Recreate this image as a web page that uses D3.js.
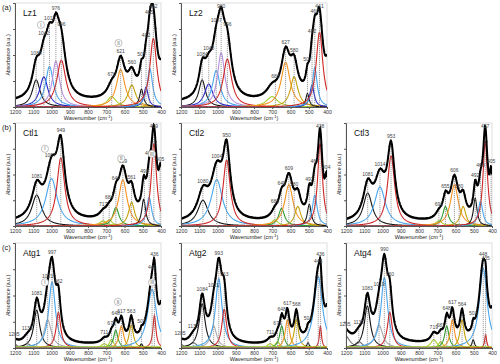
<!DOCTYPE html>
<html>
<head>
<meta charset="utf-8">
<script src="https://cdn.jsdelivr.net/npm/d3@7"></script>
<style>
  body { margin: 0; background: #fff; }
  svg { display: block; font-family: Arial, "Liberation Sans", sans-serif; }
</style>
</head>
<body>
<svg id="chart" width="500" height="364"></svg>
<script>
// ---- data: peaks as [centre, height, half-width] ----
var wavenumberTicks = [1200, 1100, 1000, 900, 800, 700, 600, 500, 400];
var rowLabels = ["(a)", "(b)", "(c)"];

var lz1Peaks = [[1084, .26, 26], [1042, .29, 27], [1011, .39, 26], [976, .44, 24], [946, .45, 30],
  [670, .10, 30], [621, .36, 28], [560, .21, 26], [507, .17, 13], [482, .19, 14], [461, .37, 18], [442, .66, 23], [388, .28, 22]];
var lz1Labels = [1084, 1042, 1011, 976, 946, 670, 621, 560, 507, 482, 465, 442];
var lz1Baseline = .04;

var lz2Peaks = [[1084, .26, 22], [1048, .22, 28], [1007, .35, 26], [980, .52, 24], [946, .46, 28],
  [701, .10, 38], [627, .43, 30], [580, .29, 25], [507, .13, 11], [482, .21, 14], [467, .38, 16], [441, .72, 22], [392, .30, 20]];
var lz2Labels = [1084, 1048, 1007, 980, 946, 683, 627, 580, 507, 482, 467, 441];
var lz2Baseline = .035;

var ctl1Peaks = [[1081, .30, 33], [1000, .46, 38], [949, .66, 26], [717, .05, 25], [684, .06, 20], [647, .18, 20],
  [609, .45, 28], [561, .23, 20], [495, .26, 13], [465, .28, 16], [439, .80, 18], [402, .38, 12]];
var ctl1Labels = [1081, 1007, 949, 717, 684, 647, 609, 561, 491, 465, 439, 405];
var ctl1Baseline = .03;

var ctl2Peaks = [[1080, .25, 35], [1004, .45, 38], [950, .64, 24], [686, .06, 22], [649, .17, 20],
  [609, .40, 28], [560, .19, 20], [497, .21, 13], [467, .30, 16], [438, .80, 16], [403, .32, 10]];
var ctl2Labels = [1080, 1004, 950, 686, 649, 609, 580, 497, 467, 438, 404];
var ctl2Baseline = .025;

var ctl3Peaks = [[1081, .32, 30], [1014, .38, 36], [953, .68, 24], [691, .05, 22], [655, .19, 18],
  [606, .40, 26], [558, .19, 18], [492, .27, 12], [463, .24, 15], [437, .82, 15], [404, .38, 10]];
var ctl3Labels = [1081, 1014, 953, 691, 655, 606, 580, 492, 463, 437, 405];
var ctl3Baseline = .025;

var atg1Peaks = [[1205, .04, 20], [1133, .04, 25], [1081, .36, 20], [1021, .27, 24], [997, .63, 22], [962, .34, 15],
  [711, .04, 20], [671, .08, 15], [648, .17, 14], [617, .21, 15], [563, .22, 14], [507, .04, 8],
  [449, .56, 30], [436, .31, 10], [395, .28, 15], [800, .012, 4000]];
var atg1Labels = [1205, 1133, 1081, 1021, 997, 962, 711, 671, 648, 617, 563, 507, 449, 436];
var atg1Baseline = .01;

var atg2Peaks = [[1205, .04, 20], [1133, .05, 25], [1084, .42, 20], [1021, .21, 20], [993, .66, 22], [963, .37, 16],
  [711, .04, 20], [671, .06, 15], [648, .21, 14], [617, .27, 14], [568, .275, 14], [504, .05, 8],
  [448, .68, 28], [436, .21, 7], [392, .28, 15], [800, .012, 4000]];
var atg2Labels = [1205, 1133, 1084, 1021, 993, 963, 711, 671, 648, 617, 568, 504, 448, 436];
var atg2Baseline = .01;

var atg4Peaks = [[1205, .12, 30], [1130, .06, 25], [1083, .40, 20], [1019, .22, 24], [990, .67, 22], [960, .34, 16],
  [719, .08, 20], [681, .06, 15], [648, .21, 14], [617, .27, 14], [564, .27, 14], [503, .08, 8],
  [448, .76, 26], [435, .13, 6], [385, .38, 15], [800, .012, 4000]];
var atg4Labels = [1205, 1130, 1083, 1019, 990, 960, 719, 681, 648, 617, 564, 503, 448, 435];
var atg4Baseline = .02;

// circled band markers: [wavenumber, level, numeral]
var lz1Bands = [[1058, .79, "I"], [633, .615, "II"]];
var ctl1Bands = [[1036, .75, "I"], [618, .655, "II"], [450, .70, "III"]];
var atg1Bands = [[1036, .625, "I"], [636, .44, "II"], [449, .625, "III"]];

// ---- component colours (null = fitted but not drawn) ----
var C = {k: "#151515", db: "#2424c8", sb: "#48a6ee", vi: "#b690de", rd: "#cf2626", yg: "#a8cc2a",
  or: "#f7921e", go: "#c4a10a", gr: "#2b9a2b", sv: "#a9a9a9", dg: "#6a6a6a"};
var lz1Colors = [C.k, C.db, C.sb, C.vi, C.rd, C.yg, C.or, C.go, C.k, C.db, C.sb, C.rd, null];
var lz2Colors = lz1Colors;
var ctlColors = [C.k, C.sb, C.rd, C.yg, C.yg, C.gr, C.or, C.go, C.k, C.sb, C.rd, null];
var ctl23Colors = [C.k, C.sb, C.rd, C.yg, C.gr, C.or, C.go, C.k, C.sb, C.rd, null];
var atgColors = [C.dg, C.dg, C.k, C.sv, C.sb, C.rd, C.yg, C.yg, C.gr, C.or, C.go, C.k, C.sb, C.rd, null, C.yg];

var svg = d3.select("#chart");

// geometry of the 3x3 grid
var colX = [15, 181, 346], rowTop = [3, 123, 243], rowBottom = [107, 226, 348], plotW = 146;

var panels = [
  {name: "Lz1", col: 0, row: 0, peaks: lz1Peaks, labels: lz1Labels, base: lz1Baseline, colors: lz1Colors, bands: lz1Bands},
  {name: "Lz2", col: 1, row: 0, peaks: lz2Peaks, labels: lz2Labels, base: lz2Baseline, colors: lz2Colors, bands: []},
  {name: "Ctl1", col: 0, row: 1, peaks: ctl1Peaks, labels: ctl1Labels, base: ctl1Baseline, colors: ctlColors, bands: ctl1Bands},
  {name: "Ctl2", col: 1, row: 1, peaks: ctl2Peaks, labels: ctl2Labels, base: ctl2Baseline, colors: ctl23Colors, bands: []},
  {name: "Ctl3", col: 2, row: 1, peaks: ctl3Peaks, labels: ctl3Labels, base: ctl3Baseline, colors: ctl23Colors, bands: []},
  {name: "Atg1", col: 0, row: 2, peaks: atg1Peaks, labels: atg1Labels, base: atg1Baseline, colors: atgColors, bands: atg1Bands},
  {name: "Atg2", col: 1, row: 2, peaks: atg2Peaks, labels: atg2Labels, base: atg2Baseline, colors: atgColors, bands: []},
  {name: "Atg4", col: 2, row: 2, peaks: atg4Peaks, labels: atg4Labels, base: atg4Baseline, colors: atgColors, bands: []}
];

// Lorentzian band shape
function band(p, w) { var t = (w - p[0]) / p[2]; return p[1] / (1 + t * t); }

var grid = d3.range(1200, 399, -2);

rowLabels.forEach(function (t, i) {
  svg.append("text").attr("x", 2).attr("y", rowTop[i] + 7).attr("font-size", 7.5).attr("fill", "#222").text(t);
});

panels.forEach(function (P, pi) {
  var x0 = colX[P.col], top = rowTop[P.row], bot = rowBottom[P.row];
  var x = d3.scaleLinear().domain([1200, 400]).range([x0, x0 + plotW]);
  var y = d3.scaleLinear().domain([0, 1]).range([bot, top]);
  var env = function (w) { return P.base + d3.sum(P.peaks, function (p) { return band(p, w); }); };

  var g = svg.append("g");
  g.append("clipPath").attr("id", "clip" + pi).append("rect")
    .attr("x", x0).attr("y", top).attr("width", plotW).attr("height", bot - top);

  // light frame
  g.append("rect").attr("x", x0).attr("y", top).attr("width", plotW).attr("height", bot - top)
    .attr("fill", "none").attr("stroke", "#d4d4d4").attr("stroke-width", .8);

  var plot = g.append("g").attr("clip-path", "url(#clip" + pi + ")");

  // components
  P.peaks.forEach(function (p, i) {
    if (!P.colors[i]) return;
    plot.append("path").datum(grid)
      .attr("fill", "none").attr("stroke", P.colors[i]).attr("stroke-width", 1.1)
      .attr("d", d3.line().x(function (w) { return x(w); }).y(function (w) { return y(band(p, w)); }));
  });

  // drop lines at assigned bands
  plot.selectAll(".drop").data(P.labels).enter().append("line")
    .attr("x1", function (d) { return x(d); }).attr("x2", function (d) { return x(d); })
    .attr("y1", y(0)).attr("y2", function (d) { return y(env(d)); })
    .attr("stroke", "#8a8a8a").attr("stroke-width", .8).attr("stroke-dasharray", "1.2,.8");

  // experimental points and fitted envelope
  plot.selectAll(".pt").data(d3.range(1200, 399, -7)).enter().append("circle")
    .attr("cx", function (w) { return x(w); }).attr("cy", function (w) { return y(env(w)) - .6; })
    .attr("r", .9).attr("fill", "#000");
  plot.append("path").datum(grid)
    .attr("fill", "none").attr("stroke", "#000").attr("stroke-width", 2)
    .attr("d", d3.line().x(function (w) { return x(w); }).y(function (w) { return y(env(w)); }));

  // band labels
  g.selectAll(".lab").data(P.labels).enter().append("text")
    .attr("x", function (d) { return x(d); })
    .attr("y", function (d) { return Math.max(top + 5, y(env(d)) - 3); })
    .attr("text-anchor", "middle").attr("font-size", 5).attr("fill", "#444")
    .text(function (d) { return d; });

  // circled band groups
  P.bands.forEach(function (b) {
    g.append("circle").attr("cx", x(b[0])).attr("cy", y(b[1])).attr("r", 3.6)
      .attr("fill", "#fff").attr("stroke", "#999").attr("stroke-width", .6);
    g.append("text").attr("x", x(b[0])).attr("y", y(b[1]) + 1.7).attr("text-anchor", "middle")
      .attr("font-size", 4.5).attr("fill", "#444").text(b[2]);
  });

  // axes
  g.append("g").attr("transform", "translate(0," + bot + ")")
    .call(d3.axisBottom(x).tickValues(wavenumberTicks).tickFormat(d3.format("d")).tickSize(2).tickPadding(1.5))
    .call(function (a) {
      a.select(".domain").attr("stroke", "#555");
      a.selectAll("line").attr("stroke", "#555");
      a.selectAll("text").attr("font-size", 5.2).attr("fill", "#333").attr("font-family", "Arial, sans-serif");
    });
  g.append("g").attr("transform", "translate(" + x0 + ",0)")
    .call(d3.axisLeft(y).tickValues([.25, .5, .75]).tickSize(2).tickFormat(""))
    .call(function (a) {
      a.select(".domain").attr("stroke", "#555");
      a.selectAll("line").attr("stroke", "#555");
    });

  g.append("text").attr("x", x0 + plotW / 2).attr("y", bot + 13).attr("text-anchor", "middle")
    .attr("font-size", 5.5).attr("fill", "#222")
    .html("Wavenumber (cm<tspan dy='-2' font-size='4'>-1</tspan><tspan dy='2'>)</tspan>");
  g.append("text").attr("transform", "translate(" + (x0 - 5) + "," + ((top + bot) / 2) + ") rotate(-90)")
    .attr("text-anchor", "middle").attr("font-size", 5.2).attr("fill", "#222").text("Absorbance (a.u.)");

  g.append("text").attr("x", x0 + 8).attr("y", top + 13).attr("font-size", 8.5).attr("fill", "#111").text(P.name);
});
</script>
</body>
</html>
